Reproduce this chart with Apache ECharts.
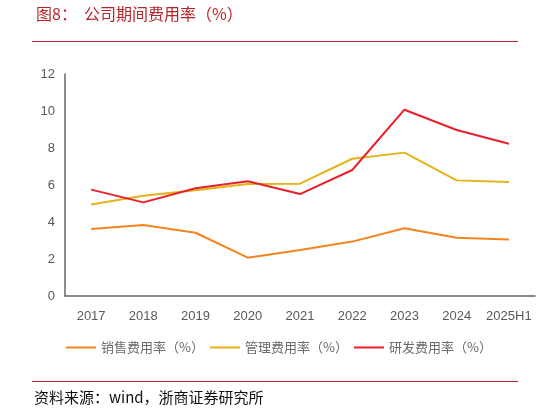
<!DOCTYPE html>
<html>
<head>
<meta charset="utf-8">
<script src="https://cdn.jsdelivr.net/npm/echarts@6/dist/echarts.min.js"></script>
<style>
  html, body { margin: 0; padding: 0; background: #fff; }
  #chart { width: 548px; height: 413px; }
</style>
</head>
<body>
<div id="chart"></div>
<script>
  var categories = ['2017', '2018', '2019', '2020', '2021', '2022', '2023', '2024', '2025H1'];
  var salesRate = [3.62, 3.84, 3.42, 2.07, 2.49, 2.94, 3.66, 3.15, 3.06];
  var adminRate = [4.95, 5.42, 5.72, 6.05, 6.07, 7.42, 7.75, 6.25, 6.16];
  var rdRate = [5.75, 5.06, 5.82, 6.20, 5.51, 6.81, 10.07, 8.97, 8.23];
  var seriesNames = ['销售费用率（%）', '管理费用率（%）', '研发费用率（%）'];
  var seriesColors = ['#F5831F', '#E3B318', '#E8202A'];

  var chart = echarts.init(document.getElementById('chart'));
  var font = 'Liberation Sans, Arial, sans-serif';

  var seriesData = [salesRate, adminRate, rdRate];
  var series = seriesNames.map(function (name, i) {
    return {
      name: name,
      type: 'line',
      data: seriesData[i],
      symbol: 'none',
      lineStyle: { width: 2, color: seriesColors[i] },
      itemStyle: { color: seriesColors[i] }
    };
  });

  chart.setOption({
    animation: false,
    grid: { left: 65, right: 13, top: 74, bottom: 117 },
    legend: {
      left: 66,
      top: 341,
      padding: 0,
      icon: 'rect',
      itemWidth: 30,
      itemHeight: 2,
      itemGap: 6,
      textStyle: { color: '#6b6b6b', fontSize: 13, fontFamily: 'Noto Sans CJK SC' },
      data: seriesNames
    },
    xAxis: {
      type: 'category',
      data: categories,
      boundaryGap: true,
      axisLine: { lineStyle: { color: '#666', width: 1.5 } },
      axisTick: { show: false },
      axisLabel: { color: '#595959', fontSize: 13, fontFamily: font, margin: 14, interval: 0 }
    },
    yAxis: {
      type: 'value',
      min: 0,
      max: 12,
      interval: 2,
      axisLine: { show: true, lineStyle: { color: '#666', width: 1.5 } },
      axisTick: { show: false },
      splitLine: { show: false },
      axisLabel: { color: '#595959', fontSize: 13, fontFamily: font, margin: 10 }
    },
    graphic: [
      {
        type: 'text',
        left: 36,
        top: 6,
        style: { text: '图8：  公司期间费用率（%）', fill: '#B7252B', fontSize: 16, fontFamily: 'Noto Sans CJK SC' }
      },
      {
        type: 'rect',
        shape: { x: 32, y: 41, width: 486, height: 1 },
        style: { fill: '#C0282D' }
      },
      {
        type: 'rect',
        shape: { x: 32, y: 381, width: 486, height: 1 },
        style: { fill: '#C0282D' }
      },
      {
        type: 'text',
        left: 34,
        top: 390,
        style: { text: '资料来源：wind，浙商证券研究所', fill: '#111', fontSize: 15, fontFamily: 'Noto Sans CJK SC' }
      }
    ],
    series: series
  });
</script>
</body>
</html>
